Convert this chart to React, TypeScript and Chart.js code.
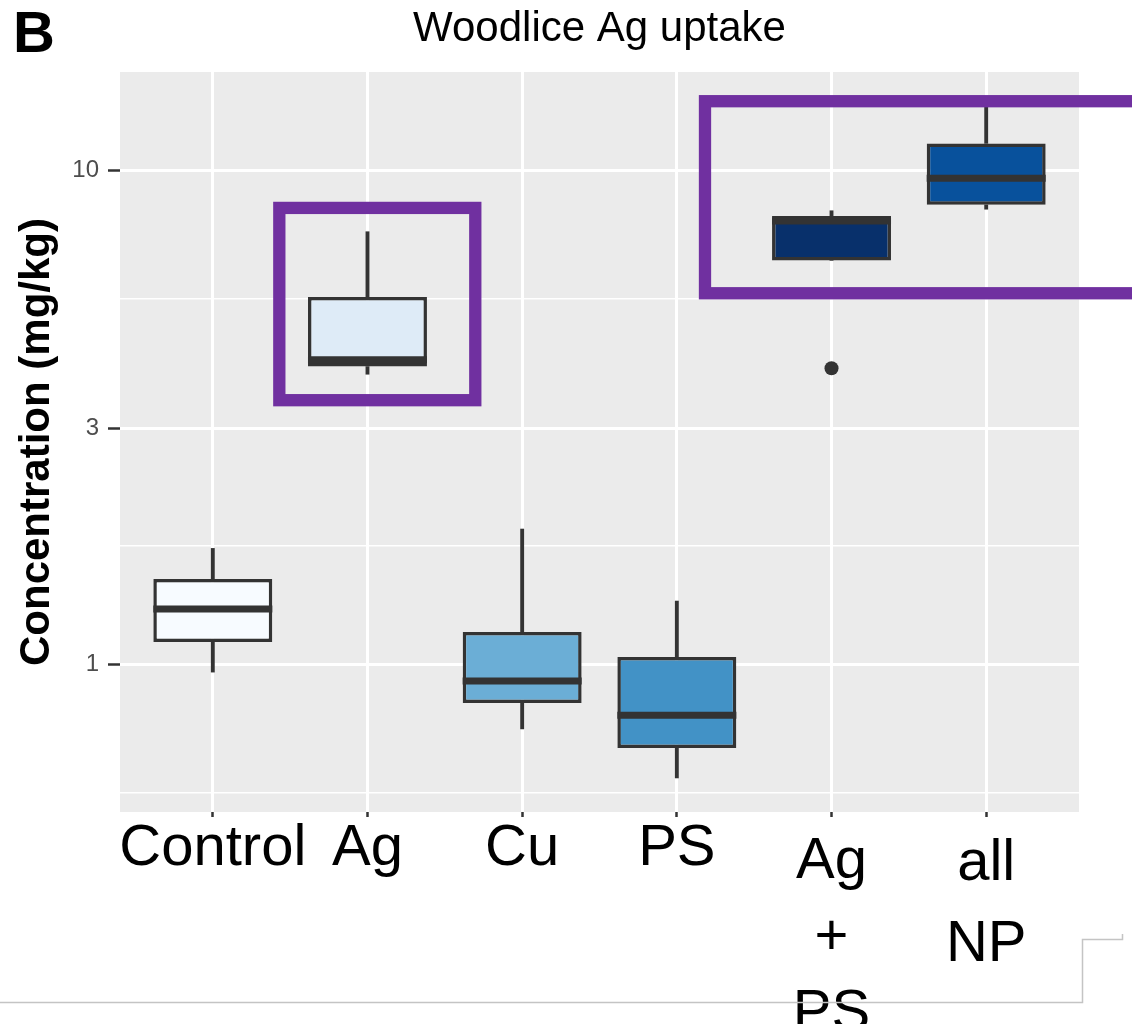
import React, { useEffect, useRef } from 'react';
import { Chart, registerables } from 'chart.js';

Chart.register(...registerables);

// ---------- data ----------
const categories = ['Control', 'Ag', 'Cu', 'PS', 'Ag + PS', 'all NP'];
const tickLabels: string[][] = [['Control'], ['Ag'], ['Cu'], ['PS'], ['Ag', '+', 'PS'], ['all', 'NP']];

const whiskerLow = [0.963, 3.86, 0.739, 0.588, 6.56, 8.33];
const q1 = [1.108, 4.0, 0.834, 0.676, 6.56, 8.5];
const median = [1.292, 4.13, 0.924, 0.788, 7.88, 9.62];
const q3 = [1.486, 5.53, 1.161, 1.033, 8.07, 11.32];
const whiskerHigh = [1.714, 7.5, 1.876, 1.341, 8.27, 13.6];

const outlierCategory = [4];
const outlierValue = [3.97];

const fillColors = ['#F7FBFF', '#DEEBF7', '#6BAED6', '#4292C6', '#08306B', '#08519C'];

const yMajorTicks = [1, 3, 10];
const yMinorTicks = [0.5477, 1.732, 5.477];

const chartTitle = 'Woodlice Ag uptake';
const yTitle = 'Concentration (mg/kg)';
const panelLetter = 'B';

// highlight frames (category units / concentration units)
const frameX0 = [0.43, 3.182];
const frameX1 = [1.697, 7.5];
const frameYLow = [3.42, 5.63];
const frameYHigh = [8.38, 13.78];

const FAMILY = '"Liberation Sans", Arial, Helvetica, sans-serif';
const X_LABEL_SIZE = 58;
// line height (px) for x labels, by number of lines
const X_LINE_HEIGHT: Record<number, number> = { 1: 51, 2: 81, 3: 76 };
const isMajor = (v: number) => yMajorTicks.some((m) => Math.abs(m - v) < 1e-6);

const decorPlugin = {
  id: 'decor',
  beforeDraw(chart: any) {
    const { ctx, chartArea: a } = chart;
    ctx.save();
    ctx.fillStyle = '#FFFFFF';
    ctx.fillRect(0, 0, chart.width, chart.height);
    ctx.fillStyle = '#EBEBEB';
    ctx.fillRect(a.left, a.top, a.right - a.left, a.bottom - a.top);
    ctx.restore();
  },
  afterDraw(chart: any) {
    const { ctx, chartArea: a } = chart;
    const xs = chart.scales.x;
    const ys = chart.scales.y;
    ctx.save();
    // title centred on the panel
    ctx.fillStyle = '#000000';
    ctx.font = `42px ${FAMILY}`;
    ctx.textAlign = 'center';
    ctx.textBaseline = 'alphabetic';
    ctx.fillText(chartTitle, (a.left + a.right) / 2, 41);
    // highlight frames
    ctx.strokeStyle = '#7030A0';
    ctx.lineWidth = 12.3;
    ctx.lineJoin = 'miter';
    for (let i = 0; i < frameX0.length; i++) {
      const l = xs.getPixelForValue(frameX0[i]);
      const r = xs.getPixelForValue(frameX1[i]);
      const t = ys.getPixelForValue(frameYHigh[i]);
      const b = ys.getPixelForValue(frameYLow[i]);
      ctx.strokeRect(l, t, r - l, b - t);
    }
    // panel letter
    ctx.fillStyle = '#000000';
    ctx.font = `bold 58px ${FAMILY}`;
    ctx.textBaseline = 'alphabetic';
    ctx.textAlign = 'left';
    ctx.fillText(panelLetter, 13, 52);
    // page frame line
    ctx.strokeStyle = '#C4C4C4';
    ctx.lineWidth = 1.5;
    ctx.beginPath();
    ctx.moveTo(0, 1002.5);
    ctx.lineTo(1082.5, 1002.5);
    ctx.lineTo(1082.5, 939.5);
    ctx.lineTo(1122.5, 939.5);
    ctx.lineTo(1122.5, 934);
    ctx.stroke();
    ctx.restore();
  },
};

export default function App() {
  const ref = useRef<HTMLCanvasElement>(null);

  useEffect(() => {
    document.body.style.margin = '0';
    const canvas = ref.current!;
    const chart = new Chart(canvas, {
      type: 'bar',
      data: {
        datasets: [
          {
            type: 'bar',
            label: 'upper whisker',
            data: categories.map((_, i) => ({ x: i, y: [q3[i], whiskerHigh[i]] })) as any,
            backgroundColor: '#333333',
            borderWidth: 0,
            grouped: false,
            maxBarThickness: 3.2,
            barPercentage: 1,
            categoryPercentage: 1,
            order: 5,
          } as any,
          {
            type: 'bar',
            label: 'lower whisker',
            data: categories.map((_, i) => ({ x: i, y: [whiskerLow[i], q1[i]] })) as any,
            backgroundColor: '#333333',
            borderWidth: 0,
            grouped: false,
            maxBarThickness: 3.2,
            barPercentage: 1,
            categoryPercentage: 1,
            order: 5,
          } as any,
          {
            type: 'bar',
            label: 'box',
            data: categories.map((_, i) => ({ x: i, y: [q1[i], q3[i]] })) as any,
            backgroundColor: fillColors,
            borderColor: '#333333',
            borderWidth: 3.5,
            borderSkipped: false,
            grouped: false,
            barPercentage: 0.769,
            categoryPercentage: 1,
            order: 3,
          } as any,
          {
            type: 'line',
            label: 'median',
            data: categories.map((_, i) => ({ x: i, y: median[i] })),
            showLine: false,
            pointStyle: 'line',
            pointRadius: 59.5,
            pointBorderWidth: 7,
            pointBorderColor: '#333333',
            pointBackgroundColor: '#333333',
            order: 2,
          } as any,
          {
            type: 'line',
            label: 'outliers',
            data: outlierCategory.map((c, k) => ({ x: c, y: outlierValue[k] })),
            showLine: false,
            pointStyle: 'circle',
            pointRadius: 7,
            pointBorderWidth: 0,
            pointBackgroundColor: '#333333',
            pointBorderColor: '#333333',
            order: 1,
          } as any,
        ],
      },
      options: {
        responsive: false,
        animation: false,
        devicePixelRatio: 1,
        events: [],
        layout: { autoPadding: false, padding: { left: 0, right: 53, top: 72, bottom: 0 } },
        plugins: {
          legend: { display: false },
          tooltip: { enabled: false },
          title: { display: false },
        },
        scales: {
          x: {
            type: 'linear',
            offset: false,
            min: -0.6,
            max: 5.6,
            afterBuildTicks: (s: any) => {
              s.ticks = categories.map((_, i) => ({ value: i }));
            },
            afterFit: (s: any) => {
              s.height = 212;
              s.paddingLeft = 0;
              s.paddingRight = 0;
            },
            grid: {
              offset: false,
              color: '#FFFFFF',
              lineWidth: 3,
              tickColor: '#333333',
              tickLength: 5,
              tickWidth: 2.5,
            },
            border: { display: false },
            ticks: {
              autoSkip: false,
              maxRotation: 0,
              minRotation: 0,
              padding: 6.5,
              color: '#000000',
              font: (ctx: any) => {
                const n = (tickLabels[ctx.index] || ['']).length;
                return {
                  family: FAMILY,
                  size: X_LABEL_SIZE,
                  lineHeight: (X_LINE_HEIGHT[n] || 51) / X_LABEL_SIZE,
                };
              },
              callback: (_v: any, i: number) => tickLabels[i],
            },
          },
          y: {
            type: 'logarithmic',
            min: 0.5017,
            max: 15.79,
            afterBuildTicks: (s: any) => {
              s.ticks = [...yMinorTicks, ...yMajorTicks].sort((a, b) => a - b).map((v) => ({ value: v }));
            },
            afterFit: (s: any) => {
              s.width = 120;
              s.paddingTop = 0;
              s.paddingBottom = 0;
            },
            grid: {
              color: '#FFFFFF',
              lineWidth: (ctx: any) => (ctx.tick && isMajor(ctx.tick.value) ? 3 : 1.6),
              tickColor: (ctx: any) => (ctx.tick && isMajor(ctx.tick.value) ? '#333333' : 'rgba(0,0,0,0)'),
              tickLength: 12,
              tickWidth: 2.5,
            },
            border: { display: false },
            ticks: {
              autoSkip: false,
              padding: 9,
              color: '#4D4D4D',
              font: { family: FAMILY, size: 24 },
              callback: (v: any) => (isMajor(Number(v)) ? String(v) : ''),
            },
            title: {
              display: true,
              text: yTitle,
              color: '#000000',
              font: { family: FAMILY, size: 42, weight: 'bold', lineHeight: 1.2 },
              padding: { top: 12, bottom: 0 },
            },
          },
        },
      } as any,
      plugins: [decorPlugin],
    });
    return () => chart.destroy();
  }, []);

  return (
    <canvas
      ref={ref}
      width={1132}
      height={1024}
      style={{ display: 'block', width: '1132px', height: '1024px' }}
    />
  );
}
